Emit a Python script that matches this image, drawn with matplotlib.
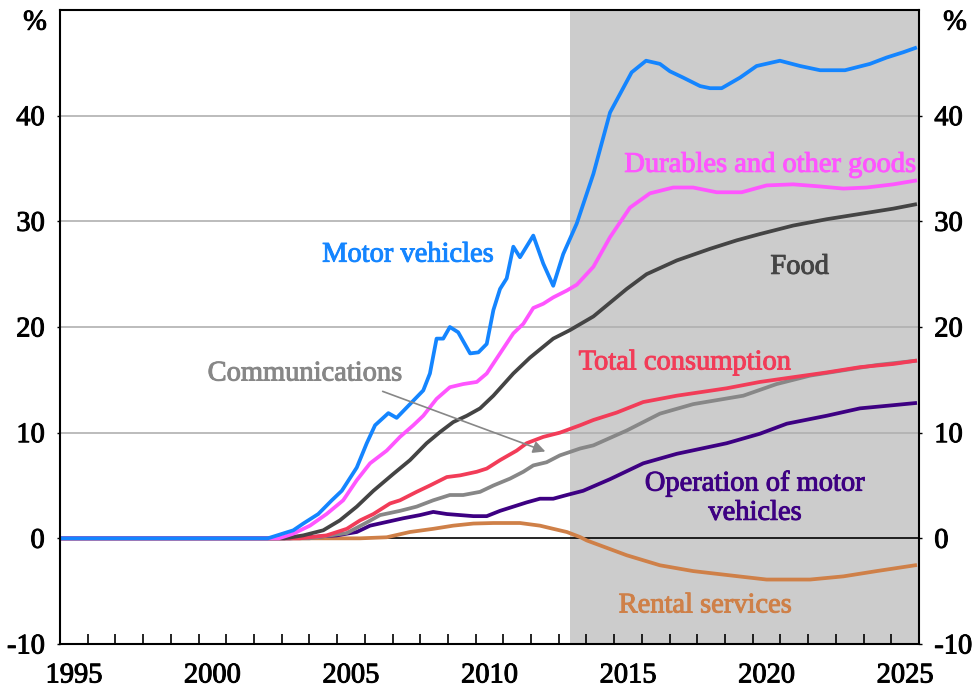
import matplotlib
matplotlib.use("Agg")
import matplotlib.pyplot as plt
import matplotlib.patheffects as pe
from matplotlib.ticker import FixedLocator, NullFormatter

plt.rcParams['font.family'] = ['Liberation Serif', 'DejaVu Serif']

# ---- data (years, % values) ----
motor_x = [1995.0, 2002.5, 2003.42, 2003.78, 2004.32, 2004.81, 2005.17, 2005.71, 2006.07, 2006.37,
           2006.85, 2007.15, 2007.63, 2008.11, 2008.35, 2008.59, 2008.83, 2009.07, 2009.37, 2009.80,
           2010.10, 2010.40, 2010.64, 2010.88, 2011.12, 2011.36, 2011.60, 2012.08, 2012.44, 2012.80,
           2013.16, 2013.65, 2014.25, 2014.85, 2015.63, 2016.15, 2016.65, 2017.01, 2017.49, 2018.10,
           2018.46, 2018.88, 2019.54, 2020.14, 2020.98, 2021.71, 2022.43, 2023.33, 2024.23, 2024.83,
           2025.43, 2025.86]
motor_y = [0, 0, 0.76, 1.4, 2.3, 3.6, 4.5, 6.7, 9.0, 10.7,
           11.85, 11.4, 12.7, 14.0, 15.6, 18.9, 18.9, 20.0, 19.5, 17.5,
           17.6, 18.4, 21.6, 23.6, 24.6, 27.6, 26.6, 28.65, 26.0, 23.9,
           26.9, 29.8, 34.5, 40.3, 44.1, 45.2, 44.9, 44.2, 43.6, 42.8,
           42.6, 42.6, 43.6, 44.7, 45.2, 44.7, 44.3, 44.3, 44.9, 45.5,
           46.0, 46.4]

durable_x = [1995.0, 2002.9, 2003.42, 2004.02, 2004.62, 2005.22, 2005.71, 2006.19, 2006.79, 2007.27,
             2007.75, 2008.11, 2008.59, 2009.07, 2009.55, 2010.04, 2010.40, 2010.88, 2011.36, 2011.72,
             2012.08, 2012.44, 2012.80, 2013.29, 2013.65, 2014.25, 2014.85, 2015.57, 2016.29, 2017.13,
             2017.85, 2018.70, 2019.60, 2020.50, 2021.46, 2022.43, 2023.27, 2024.11, 2025.07, 2025.86]
durable_y = [0, 0, 0.44, 1.2, 2.3, 3.6, 5.5, 7.1, 8.3, 9.6,
             10.7, 11.6, 13.2, 14.3, 14.6, 14.8, 15.6, 17.5, 19.4, 20.3,
             21.8, 22.2, 22.8, 23.45, 24.0, 25.7, 28.5, 31.3, 32.65, 33.2,
             33.2, 32.75, 32.75, 33.4, 33.5, 33.3, 33.1, 33.2, 33.5, 33.85]

food_x = [1995.0, 2003.1, 2003.78, 2004.50, 2005.10, 2005.71, 2006.31, 2007.03, 2007.63, 2008.23,
          2008.71, 2009.19, 2009.68, 2010.16, 2010.64, 2011.36, 2011.96, 2012.80, 2013.40, 2014.25,
          2015.45, 2016.17, 2017.26, 2018.46, 2019.42, 2020.26, 2021.46, 2022.67, 2023.87, 2025.07,
          2025.86]
food_y = [0, 0, 0.28, 0.76, 1.7, 3.0, 4.5, 6.1, 7.4, 9.0,
          10.05, 11.0, 11.6, 12.3, 13.5, 15.6, 17.1, 18.9, 19.7, 21.0,
          23.6, 25.0, 26.3, 27.4, 28.2, 28.8, 29.6, 30.2, 30.7, 31.2,
          31.6]

total_x = [1995.0, 2003.66, 2004.62, 2005.35, 2005.83, 2006.31, 2006.91, 2007.27, 2007.87, 2008.35,
           2008.96, 2009.44, 2010.04, 2010.40, 2010.88, 2011.48, 2011.84, 2012.44, 2013.04, 2013.77,
           2014.25, 2015.09, 2016.05, 2017.26, 2019.06, 2020.26, 2021.46, 2022.67, 2023.87, 2025.07,
           2025.86]
total_y = [0, 0, 0.28, 0.9, 1.7, 2.3, 3.3, 3.6, 4.4, 5.0,
           5.8, 5.96, 6.3, 6.6, 7.4, 8.3, 9.0, 9.6, 10.0, 10.7,
           11.2, 11.9, 12.9, 13.5, 14.2, 14.8, 15.25, 15.7, 16.2, 16.5,
           16.8]

comm_x = [1995.0, 2004.0, 2005.35, 2006.07, 2006.55, 2007.27, 2007.87, 2008.47, 2009.07, 2009.55,
          2010.16, 2010.64, 2011.24, 2011.72, 2012.08, 2012.56, 2013.04, 2013.77, 2014.25, 2015.45,
          2016.65, 2017.85, 2019.66, 2020.86, 2022.07, 2023.27, 2024.47, 2025.86]
comm_y = [0, 0, 0.5, 1.5, 2.2, 2.6, 3.0, 3.6, 4.1, 4.1,
          4.4, 5.0, 5.65, 6.3, 6.9, 7.2, 7.85, 8.5, 8.8, 10.2,
          11.8, 12.7, 13.5, 14.6, 15.4, 15.9, 16.4, 16.8]

oper_x = [1995.0, 2003.3, 2004.99, 2005.71, 2006.19, 2006.79, 2007.39, 2007.99, 2008.47, 2008.96,
          2009.44, 2009.92, 2010.40, 2010.88, 2011.36, 2011.84, 2012.32, 2012.80, 2013.29, 2013.88,
          2014.85, 2016.05, 2017.26, 2019.06, 2020.26, 2021.23, 2022.67, 2023.87, 2025.07, 2025.86]
oper_y = [0, 0, 0.28, 0.6, 1.2, 1.55, 1.9, 2.2, 2.5, 2.3,
          2.2, 2.1, 2.1, 2.6, 3.0, 3.4, 3.75, 3.75, 4.1, 4.5,
          5.6, 7.1, 8.0, 9.0, 9.9, 10.85, 11.6, 12.3, 12.6, 12.8]

rental_x = [1995.0, 2005.83, 2006.79, 2007.63, 2008.47, 2009.19, 2009.92, 2010.64, 2011.60, 2012.32,
            2012.80, 2013.29, 2013.77, 2014.01, 2015.45, 2016.65, 2017.85, 2019.66, 2020.50, 2022.07,
            2023.27, 2024.47, 2025.86]
rental_y = [0, 0, 0.1, 0.6, 0.9, 1.2, 1.4, 1.45, 1.45, 1.2,
            0.9, 0.6, 0.12, -0.2, -1.6, -2.55, -3.1, -3.65, -3.9, -3.9,
            -3.6, -3.1, -2.55]

year_labels = [1995, 2000, 2005, 2010, 2015, 2020, 2025]
y_ticks = [-10, 0, 10, 20, 30, 40]
shade_start, shade_end = 2013.4, 2026.0

# ---- colours ----
c_motor = '#1485ff'
c_dur = '#ff55ff'
c_food = '#444444'
c_total = '#f23c58'
c_comm = '#878787'
c_oper = '#3d0082'
c_rent = '#cf8048'


def thick(c):
    return [pe.withStroke(linewidth=0.7, foreground=c)]


fig = plt.figure(figsize=(9.72, 6.90), dpi=100)
ax = fig.add_axes([60/972, 1-644/690, (919-60)/972, (644-10)/690])
ax.set_xlim(1995, 2026)
ax.set_ylim(-10, 50)

ax.axvspan(shade_start, shade_end, color='#cccccc', zorder=0, lw=0)
for g in [10, 20, 30, 40]:
    ax.axhline(g, color='#b0b0b0', lw=1.2, zorder=0.5)
ax.axhline(0, color='black', lw=1.2, zorder=0.6)

lw = 2.7
ax.plot(rental_x, rental_y, color=c_rent, lw=lw, zorder=2)
ax.plot(oper_x, oper_y, color=c_oper, lw=lw, zorder=3)
ax.plot(comm_x, comm_y, color=c_comm, lw=lw, zorder=3)
ax.plot(total_x, total_y, color=c_total, lw=lw, zorder=3)
ax.plot(food_x, food_y, color=c_food, lw=lw, zorder=3)
ax.plot(durable_x, durable_y, color=c_dur, lw=lw, zorder=3)
ax.plot(motor_x, motor_y, color=c_motor, lw=lw, zorder=3)

fs = 20.5
ax.text(2007.56, 26.8, 'Motor vehicles', color=c_motor, fontsize=fs, ha='center', va='center',
        path_effects=thick(c_motor))
ax.text(2025.9, 35.3, 'Durables and other goods', color=c_dur, fontsize=fs, ha='right', va='center',
        path_effects=thick(c_dur))
ax.text(2021.7, 25.65, 'Food', color=c_food, fontsize=fs, ha='center', va='center',
        path_effects=thick(c_food))
ax.text(2017.55, 16.6, 'Total consumption', color=c_total, fontsize=fs, ha='center', va='center',
        path_effects=thick(c_total))
ax.text(2003.84, 15.55, 'Communications', color=c_comm, fontsize=fs, ha='center', va='center',
        path_effects=thick(c_comm))
ax.text(2020.08, 3.75, 'Operation of motor\nvehicles', color=c_oper, fontsize=fs, ha='center',
        va='center', linespacing=1.22, path_effects=thick(c_oper))
ax.text(2018.28, -6.4, 'Rental services', color=c_rent, fontsize=fs, ha='center', va='center',
        path_effects=thick(c_rent))
ax.annotate('', xy=(2012.61, 8.13), xytext=(2006.55, 14.0),
            arrowprops=dict(arrowstyle='-|>', color=c_comm, lw=1.2, mutation_scale=18), zorder=4)

# axes styling
for s in ax.spines.values():
    s.set_linewidth(1.5)
    s.set_color('black')
    s.set_zorder(5)

ax.xaxis.set_major_locator(FixedLocator(list(range(1995, 2027))))
ax.xaxis.set_major_formatter(NullFormatter())
ax.xaxis.set_minor_locator(FixedLocator([y + 0.5 for y in year_labels]))
ax.set_xticklabels([str(y) for y in year_labels], minor=True)
ax.tick_params(axis='x', which='major', direction='in', length=7.5, width=1.2, bottom=True, top=False)
ax.tick_params(axis='x', which='minor', length=0, pad=14, labelsize=fs)

ax.set_yticks(y_ticks)
ax.set_yticklabels([str(v) for v in y_ticks])
ax.tick_params(axis='y', which='major', direction='out', length=2, width=1, labelsize=fs, pad=9,
               left=True, right=True, labelleft=True, labelright=True)

for lab in ax.get_xticklabels(minor=True) + ax.get_yticklabels() + ax.yaxis.get_ticklabels(which='major'):
    lab.set_path_effects(thick('black'))
for t in ax.yaxis.get_major_ticks():
    t.label2.set_path_effects(thick('black'))

fig.text(35/972, 1-23/690, '%', fontsize=fs, ha='center', va='center', path_effects=thick('black'))
fig.text(955/972, 1-23/690, '%', fontsize=fs, ha='center', va='center', path_effects=thick('black'))

fig.savefig('out.png', dpi=100)
